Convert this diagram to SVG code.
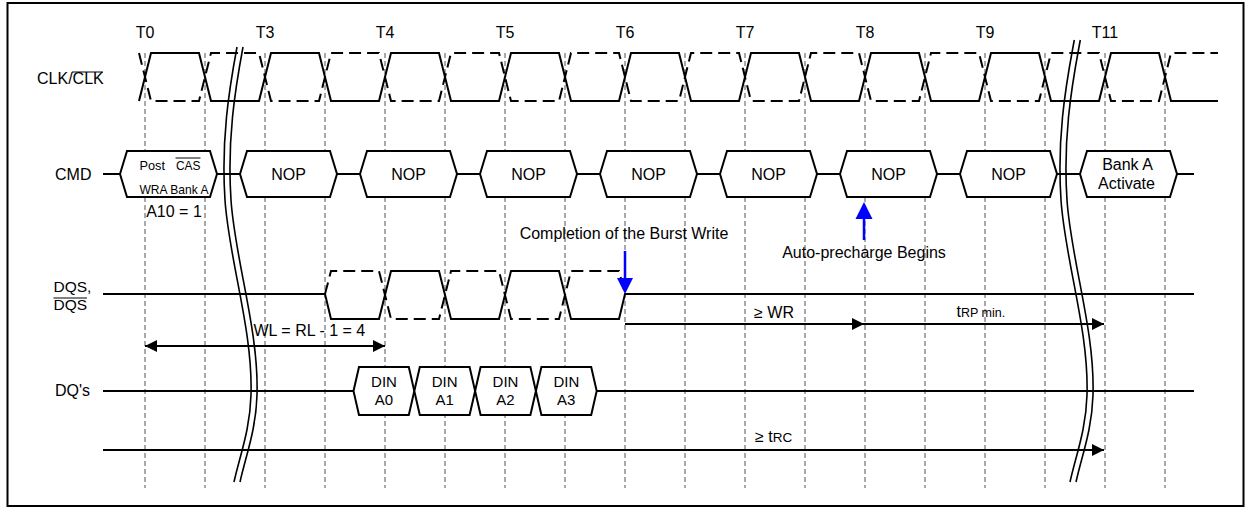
<svg xmlns="http://www.w3.org/2000/svg" width="1246" height="510" viewBox="0 0 1246 510">
<style>
text{font-family:"Liberation Sans",Arial,sans-serif;font-size:16px;fill:#000}
.grid{stroke:#555;stroke-width:1;stroke-dasharray:5,3;fill:none}
.sig{stroke:#000;stroke-width:2;fill:none;stroke-linejoin:miter}
.dsig{stroke:#000;stroke-width:2;fill:none;stroke-dasharray:12,6}
.box{stroke:#000;stroke-width:2;fill:#fff}
.brk{stroke:#000;stroke-width:1.6;fill:none}
.arr{stroke:#000;stroke-width:2;fill:none}
.mid{text-anchor:middle}
.blue{stroke:#0000ff;stroke-width:2.5;fill:none}
</style>
<defs>
<marker id="ah" viewBox="0 0 12 12" refX="12" refY="6" markerWidth="12" markerHeight="12" markerUnits="userSpaceOnUse" orient="auto-start-reverse"><path d="M0,0 L12,6 L0,12 Z" fill="#000"/></marker>
</defs>
<rect x="7.5" y="3" width="1236" height="503" fill="#fff" stroke="#000" stroke-width="2"/>
<g id="grid">
<path class="grid" d="M145,53V488M205,53V488M265,53V488M325,53V488M385,53V488M445,53V488M505,53V488M565,53V488M625,53V488M685,53V488M745,53V488M805,53V488M865,53V488M925,53V488M985,53V488M1045,53V488M1105,53V488M1165,53V488"/>
</g>
<g id="time-labels">
<text class="mid" x="145" y="38">T0</text>
<text class="mid" x="265" y="38">T3</text>
<text class="mid" x="385" y="38">T4</text>
<text class="mid" x="505" y="38">T5</text>
<text class="mid" x="625" y="38">T6</text>
<text class="mid" x="745" y="38">T7</text>
<text class="mid" x="865" y="38">T8</text>
<text class="mid" x="985" y="38">T9</text>
<text class="mid" x="1105" y="38">T11</text>
</g>
<g id="row-labels">
<text x="37" y="83.5">CLK/CLK</text>
<line x1="72" y1="72" x2="103" y2="72" stroke="#000" stroke-width="1"/>
<text x="55" y="179.5">CMD</text>
<text x="53.5" y="291.5" style="font-size:15.5px">DQS,</text>
<text x="53.5" y="310" style="font-size:15.5px">DQS</text>
<line x1="53.5" y1="298" x2="87" y2="298" stroke="#000" stroke-width="1"/>
<text x="55" y="396">DQ's</text>
</g>
<g id="clk">
<path class="sig" d="M139,101 L151,53 L199,53 L211,101 L259,101 L271,53 L319,53 L331,101 L379,101 L391,53 L439,53 L451,101 L499,101 L511,53 L559,53 L571,101 L619,101 L631,53 L679,53 L691,101 L739,101 L751,53 L799,53 L811,101 L859,101 L871,53 L919,53 L931,101 L979,101 L991,53 L1039,53 L1051,101 L1099,101 L1111,53 L1159,53 L1171,101 L1218,101"/>
<path class="dsig" d="M139,53 L151,101 L199,101 L211,53 L259,53 L271,101 L319,101 L331,53 L379,53 L391,101 L439,101 L451,53 L499,53 L511,101 L559,101 L571,53 L619,53 L631,101 L679,101 L691,53 L739,53 L751,101 L799,101 L811,53 L859,53 L871,101 L919,101 L931,53 L979,53 L991,101 L1039,101 L1051,53 L1099,53 L1111,101 L1159,101 L1171,53 L1218,53"/>
</g>
<g id="cmd">
<line class="sig" x1="103" y1="174" x2="1194" y2="174"/>
<g id="cmd-wra">
<polygon class="box" points="120,174 127,151 210,151 217,174 210,197 127,197"/>
<text x="139.5" y="169.5" style="font-size:13.5px" textLength="25.5" lengthAdjust="spacingAndGlyphs">Post</text>
<text x="176" y="169.5" style="font-size:13.5px" textLength="24.5" lengthAdjust="spacingAndGlyphs">CAS</text>
<line x1="175.5" y1="158" x2="200.5" y2="158" stroke="#000" stroke-width="1"/>
<text x="139.5" y="194" style="font-size:13.5px" textLength="69" lengthAdjust="spacingAndGlyphs">WRA Bank A</text>
</g>
<g id="cmd-nop1"><polygon class="box" points="240,174 247,151 330,151 337,174 330,197 247,197"/><text class="mid" x="288.5" y="180">NOP</text></g>
<g id="cmd-nop2"><polygon class="box" points="360,174 367,151 450,151 457,174 450,197 367,197"/><text class="mid" x="408.5" y="180">NOP</text></g>
<g id="cmd-nop3"><polygon class="box" points="480,174 487,151 570,151 577,174 570,197 487,197"/><text class="mid" x="528.5" y="180">NOP</text></g>
<g id="cmd-nop4"><polygon class="box" points="600,174 607,151 690,151 697,174 690,197 607,197"/><text class="mid" x="648.5" y="180">NOP</text></g>
<g id="cmd-nop5"><polygon class="box" points="720,174 727,151 810,151 817,174 810,197 727,197"/><text class="mid" x="768.5" y="180">NOP</text></g>
<g id="cmd-nop6"><polygon class="box" points="840,174 847,151 930,151 937,174 930,197 847,197"/><text class="mid" x="888.5" y="180">NOP</text></g>
<g id="cmd-nop7"><polygon class="box" points="960,174 967,151 1050,151 1057,174 1050,197 967,197"/><text class="mid" x="1008.5" y="180">NOP</text></g>
<g id="cmd-act"><polygon class="box" points="1080,174 1087,151 1170,151 1177,174 1170,197 1087,197"/><text class="mid" x="1127.5" y="169.5">Bank A</text><text class="mid" x="1126.5" y="189">Activate</text></g>
<text class="mid" x="174" y="217">A10 = 1</text>
</g>
<g id="dqs">
<path class="sig" d="M103,294 L325,294 L331,319 L379,319 L391,271 L439,271 L451,319 L499,319 L511,271 L559,271 L571,319 L619,319 L625,294 L1194,294"/>
<path class="dsig" d="M325,294 L331,271 L379,271 L391,319 L439,319 L451,271 L499,271 L511,319 L559,319 L571,271 L619,271 L625,294"/>
</g>
<g id="dq">
<line class="sig" x1="103" y1="391" x2="354" y2="391"/>
<line class="sig" x1="596" y1="391" x2="1194" y2="391"/>
<g id="din-a0"><polygon class="box" points="353.5,391 359,367 408.8,367 414.3,391 408.8,415 359,415"/><text class="mid" x="384" y="386.5" style="font-size:15px">DIN</text><text class="mid" x="384" y="405" style="font-size:15px">A0</text></g>
<g id="din-a1"><polygon class="box" points="414.3,391 419.8,367 469.6,367 475.1,391 469.6,415 419.8,415"/><text class="mid" x="444.7" y="386.5" style="font-size:15px">DIN</text><text class="mid" x="444.7" y="405" style="font-size:15px">A1</text></g>
<g id="din-a2"><polygon class="box" points="475.1,391 480.6,367 530.4,367 535.9,391 530.4,415 480.6,415"/><text class="mid" x="505.5" y="386.5" style="font-size:15px">DIN</text><text class="mid" x="505.5" y="405" style="font-size:15px">A2</text></g>
<g id="din-a3"><polygon class="box" points="535.9,391 541.4,367 591.2,367 596.7,391 591.2,415 541.4,415"/><text class="mid" x="566.3" y="386.5" style="font-size:15px">DIN</text><text class="mid" x="566.3" y="405" style="font-size:15px">A3</text></g>
</g>
<g id="connectors">
<line class="arr" x1="145" y1="346" x2="385" y2="346" marker-start="url(#ah)" marker-end="url(#ah)"/>
<line class="arr" x1="625" y1="324" x2="864" y2="324" marker-end="url(#ah)"/>
<line class="arr" x1="864" y1="324" x2="1104" y2="324" marker-end="url(#ah)"/>
<line class="arr" x1="103" y1="450" x2="1104" y2="450" marker-end="url(#ah)"/>
<line class="blue" x1="625" y1="251" x2="625" y2="280"/>
<polygon points="617,278 633,278 625,294" fill="#0000ff"/>
<line class="blue" x1="864" y1="217" x2="864" y2="240"/>
<polygon points="855.5,219 872.5,219 864,202" fill="#0000ff"/>
</g>
<g id="annotations">
<text x="253.5" y="336">WL = RL - 1 = 4</text>
<text class="mid" x="774" y="318">≥ WR</text>
<text x="956.5" y="316.5">t<tspan style="font-size:12.5px">RP min.</tspan></text>
<text x="755" y="441.5">≥ t<tspan style="font-size:13.5px">RC</tspan></text>
<text class="mid" x="624" y="239">Completion of the Burst Write</text>
<text class="mid" x="864" y="258">Auto-precharge Begins</text>
</g>
<g id="breaks">
<path class="brk" d="M237,47 C229,90 221,140 225,200 C229,260 253,330 251,395 C250,430 240,455 234,482"/>
<path class="brk" d="M243,47 C235,90 227,140 231,200 C235,260 259,330 257,395 C256,430 246,455 240,482"/>
<path class="brk" d="M1074.3,40 L1073,47 C1065,90 1057,140 1061,200 C1065,260 1089,330 1087,395 C1086,430 1076,455 1070,482"/>
<path class="brk" d="M1080.3,40 L1079,47 C1071,90 1063,140 1067,200 C1071,260 1095,330 1093,395 C1092,430 1082,455 1076,482"/>
</g>
</svg>
